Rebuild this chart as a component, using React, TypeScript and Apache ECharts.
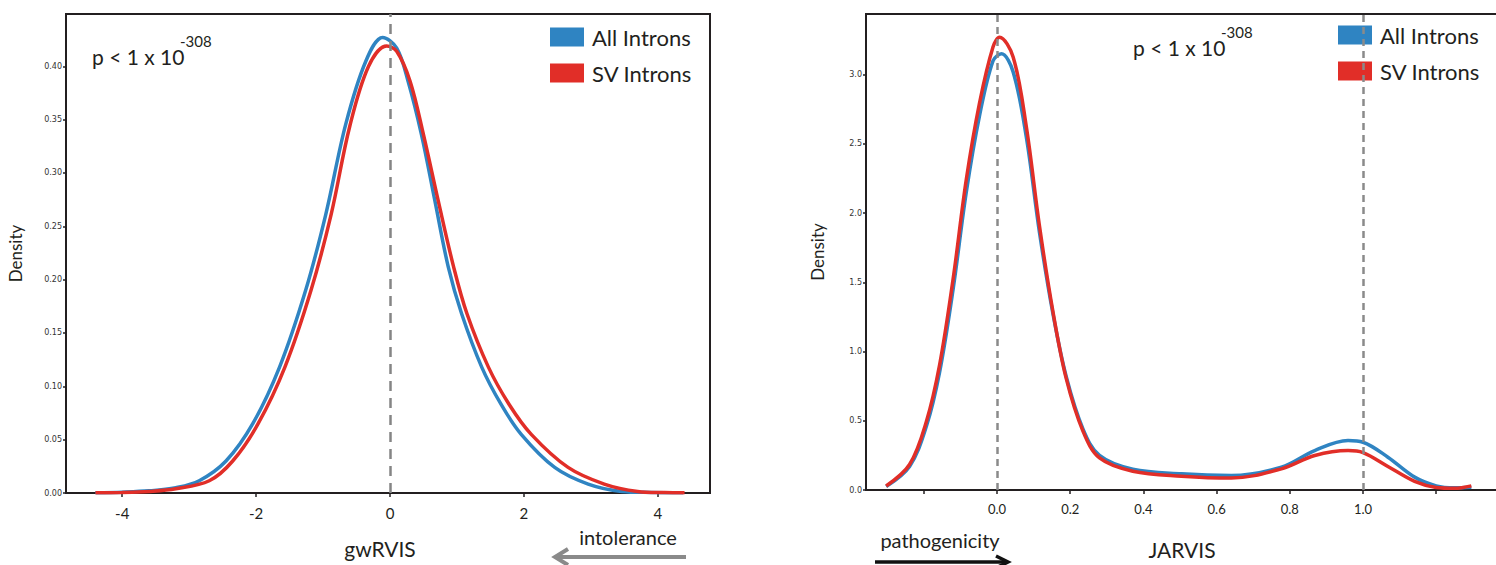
import React, { useEffect, useRef } from "react";
import * as echarts from "echarts";

// ---------- data ----------
const seriesNames = ["All Introns", "SV Introns"];
const seriesColors = ["#2f84c2", "#e12e28"];

// gwRVIS density curves
const gwAllX = [-4.4, -4.0, -3.6, -3.2, -2.85, -2.45, -2.05, -1.65, -1.26, -0.96, -0.66, -0.36, -0.11, 0.1, 0.27, 0.47, 0.67, 0.87, 1.07, 1.37, 1.66, 1.96, 2.46, 2.96, 3.46, 3.9, 4.38];
const gwAllY = [0.0003, 0.0008, 0.002, 0.005, 0.0115, 0.03, 0.065, 0.118, 0.19, 0.261, 0.346, 0.405, 0.427, 0.417, 0.386, 0.336, 0.274, 0.212, 0.168, 0.118, 0.083, 0.055, 0.024, 0.0084, 0.0015, 0.0005, 0.0002];
const gwSvX = [-4.4, -4.0, -3.6, -3.2, -2.7, -2.35, -1.97, -1.57, -1.18, -0.88, -0.6, -0.32, -0.05, 0.1, 0.3, 0.5, 0.72, 0.95, 1.15, 1.47, 1.78, 2.11, 2.66, 3.2, 3.7, 4.1, 4.4];
const gwSvY = [0.0002, 0.0005, 0.0015, 0.004, 0.0115, 0.03, 0.065, 0.118, 0.19, 0.261, 0.344, 0.4, 0.419, 0.414, 0.386, 0.336, 0.274, 0.212, 0.168, 0.118, 0.083, 0.055, 0.024, 0.0084, 0.0015, 0.0004, 0.0002];

// JARVIS density curves
const jvAllX = [-0.303, -0.239, -0.193, -0.157, -0.12, -0.084, -0.048, -0.011, 0.012, 0.044, 0.08, 0.116, 0.153, 0.189, 0.235, 0.28, 0.371, 0.504, 0.64, 0.777, 0.868, 0.959, 1.0, 1.068, 1.141, 1.2, 1.25, 1.296];
const jvAllY = [0.025, 0.17, 0.46, 0.85, 1.45, 2.15, 2.7, 3.1, 3.15, 3.02, 2.55, 1.86, 1.27, 0.82, 0.44, 0.25, 0.15, 0.117, 0.105, 0.165, 0.285, 0.357, 0.345, 0.237, 0.093, 0.03, 0.016, 0.02];
const jvSvX = [-0.303, -0.239, -0.193, -0.157, -0.12, -0.084, -0.048, -0.011, 0.007, 0.044, 0.08, 0.116, 0.153, 0.189, 0.235, 0.28, 0.371, 0.504, 0.64, 0.777, 0.868, 0.959, 1.0, 1.068, 1.141, 1.2, 1.25, 1.296];
const jvSvY = [0.029, 0.184, 0.495, 0.902, 1.524, 2.242, 2.793, 3.2, 3.27, 3.128, 2.625, 1.907, 1.285, 0.806, 0.424, 0.232, 0.136, 0.1, 0.086, 0.153, 0.249, 0.285, 0.27, 0.17, 0.062, 0.018, 0.012, 0.03];

// ticks
const gwXTicks = [-4, -2, 0, 2, 4];
const gwYTicks = [0, 0.05, 0.1, 0.15, 0.2, 0.25, 0.3, 0.35, 0.4];
const jvXTickMarks = [-0.2, 0, 0.2, 0.4, 0.6, 0.8, 1.0, 1.2];
const jvXTickLabels = [0, 0.2, 0.4, 0.6, 0.8, 1.0];
const jvYTicks = [0, 0.5, 1.0, 1.5, 2.0, 2.5, 3.0];
const gwRefLines = [0];
const jvRefLines = [0, 1.0];

const pairs = (xs: number[], ys: number[]) => xs.map((x, i) => [x, ys[i]]);

const INK = "#231f20";
const FONT = "Lato";

function xAxisBase(gridIndex: number) {
  return {
    type: "value",
    gridIndex,
    splitLine: { show: false },
    axisLine: { show: true, onZero: false, lineStyle: { color: INK, width: 2 } },
    nameLocation: "middle",
  };
}
function yAxisBase(gridIndex: number) {
  return {
    type: "value",
    gridIndex,
    splitLine: { show: false },
    axisLine: { show: true, onZero: false, lineStyle: { color: INK, width: 2 } },
    name: "Density",
    nameLocation: "middle",
    nameTextStyle: { fontSize: 17, color: INK, fontFamily: FONT },
  };
}

export default function App() {
  const ref = useRef<HTMLDivElement>(null);
  useEffect(() => {
    if (!ref.current) return;
    const chart = echarts.init(ref.current, undefined, { renderer: "svg" });
    const lineSeries = (name: string, color: string, data: number[][], gi: number, refLines: number[] | null, dash: number[], dashColor: string, dashWidth: number) => ({
      type: "line",
      name,
      xAxisIndex: gi,
      yAxisIndex: gi,
      data,
      smooth: 0.35,
      showSymbol: false,
      color,
      lineStyle: { color, width: 3.5 },
      z: name === seriesNames[1] ? 3 : 2,
      markLine: refLines
        ? {
            silent: true,
            symbol: "none",
            label: { show: false },
            lineStyle: { color: dashColor, width: dashWidth, type: dash },
            data: refLines.map((v) => ({ xAxis: v })),
          }
        : undefined,
    });
    const legendBase = {
      data: seriesNames,
      orient: "vertical",
      icon: "rect",
      itemWidth: 34,
      itemHeight: 19,
      itemGap: 14,
      padding: 0,
      selectedMode: false,
      textStyle: { fontSize: 22, color: INK, fontFamily: FONT, padding: [0, 0, 0, 3] },
    };
    chart.setOption({
      animation: false,
      backgroundColor: "#ffffff",
      grid: [
        { left: 66, top: 14, width: 644, height: 479, show: true, borderColor: INK, borderWidth: 2 },
        { left: 866, top: 14, width: 650, height: 479, show: true, borderColor: INK, borderWidth: 2 },
      ],
      xAxis: [
        {
          ...xAxisBase(0),
          min: -4.84,
          max: 4.78,
          name: "gwRVIS",
          nameGap: 45,
          nameTextStyle: { fontSize: 21, color: INK, fontFamily: FONT, padding: [0, 16, 0, 0] },
          axisTick: { customValues: gwXTicks, length: 4, lineStyle: { color: INK, width: 1.5 } },
          axisLabel: { customValues: gwXTicks, fontSize: 15, color: INK, fontFamily: FONT, margin: 12, formatter: (v: number) => String(v) },
        },
        {
          ...xAxisBase(1),
          min: -0.358,
          max: 1.418,
          name: "JARVIS",
          nameGap: 49,
          nameTextStyle: { fontSize: 21, color: INK, fontFamily: FONT, padding: [0, 18, 0, 0] },
          axisTick: { customValues: jvXTickMarks, length: 4, lineStyle: { color: INK, width: 1.5 } },
          axisLabel: { customValues: jvXTickLabels, fontSize: 13, color: INK, fontFamily: FONT, margin: 12, formatter: (v: number) => v.toFixed(1) },
        },
      ],
      yAxis: [
        {
          ...yAxisBase(0),
          min: 0,
          max: 0.449,
          nameGap: 42,
          axisTick: { customValues: gwYTicks, length: 3, lineStyle: { color: INK, width: 1.5 } },
          axisLabel: { customValues: gwYTicks, fontSize: 8, color: "#333", fontFamily: "DejaVu Sans", margin: 4, formatter: (v: number) => v.toFixed(2) },
        },
        {
          ...yAxisBase(1),
          min: 0,
          max: 3.438,
          nameGap: 40,
          axisTick: { customValues: jvYTicks, length: 3, lineStyle: { color: INK, width: 1.5 } },
          axisLabel: { customValues: jvYTicks, fontSize: 8, color: "#333", fontFamily: "DejaVu Sans", margin: 4, formatter: (v: number) => v.toFixed(1) },
        },
      ],
      legend: [
        { ...legendBase, left: 550, top: 26 },
        { ...legendBase, left: 1338, top: 24 },
      ],
      series: [
        lineSeries(seriesNames[0], seriesColors[0], pairs(gwAllX, gwAllY), 0, gwRefLines, [10, 7], "#858585", 2.5),
        lineSeries(seriesNames[1], seriesColors[1], pairs(gwSvX, gwSvY), 0, null, [10, 7], "#858585", 2.5),
        lineSeries(seriesNames[0], seriesColors[0], pairs(jvAllX, jvAllY), 1, jvRefLines, [7, 5], "#8a8a8a", 2.5),
        lineSeries(seriesNames[1], seriesColors[1], pairs(jvSvX, jvSvY), 1, null, [7, 5], "#8a8a8a", 2.5),
      ],
      graphic: [
        { type: "text", x: 92, y: 56, style: { text: "p < 1 x 10", fontSize: 21, fontFamily: FONT, fill: INK, verticalAlign: "middle" } },
        { type: "text", x: 180, y: 41, style: { text: "-308", fontSize: 15, fontFamily: FONT, fill: INK, verticalAlign: "middle" } },
        { type: "text", x: 1133, y: 47, style: { text: "p < 1 x 10", fontSize: 21, fontFamily: FONT, fill: INK, verticalAlign: "middle" } },
        { type: "text", x: 1221, y: 32, style: { text: "-308", fontSize: 15, fontFamily: FONT, fill: INK, verticalAlign: "middle" } },
        { type: "text", x: 628, y: 537, style: { text: "intolerance", fontSize: 20, fontFamily: FONT, fill: INK, align: "center", verticalAlign: "middle" } },
        { type: "text", x: 940, y: 540, style: { text: "pathogenicity", fontSize: 20, fontFamily: FONT, fill: INK, align: "center", verticalAlign: "middle" } },
        { type: "line", shape: { x1: 556, y1: 557, x2: 686, y2: 557 }, style: { stroke: "#8a8a8a", lineWidth: 4 } },
        { type: "polyline", shape: { points: [[568, 549], [555, 557], [568, 565]] }, style: { stroke: "#8a8a8a", lineWidth: 4, fill: "none" } },
        { type: "line", shape: { x1: 875, y1: 562, x2: 1006, y2: 562 }, style: { stroke: "#111", lineWidth: 3.5 } },
        { type: "polyline", shape: { points: [[996, 556], [1008, 562], [996, 568]] }, style: { stroke: "#111", lineWidth: 3.5, fill: "none" } },
      ],
    });
    return () => chart.dispose();
  }, []);
  return (
    <div style={{ position: "absolute", left: 0, top: 0, width: 1496, height: 565, overflow: "hidden" }}>
      <div ref={ref} style={{ width: 1530, height: 565 }} />
    </div>
  );
}
